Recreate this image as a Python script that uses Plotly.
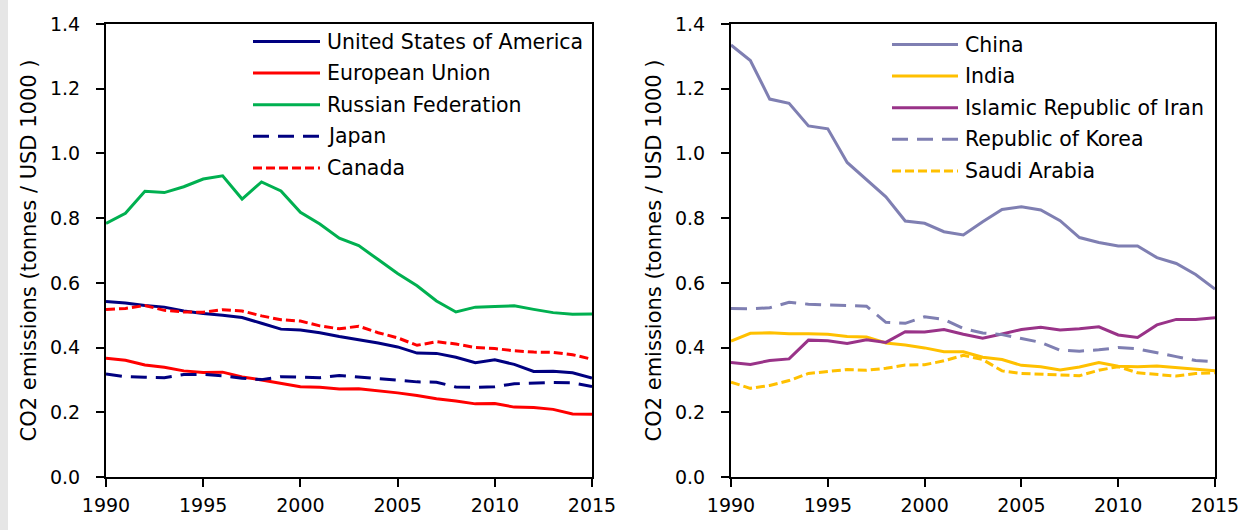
import plotly.graph_objects as go

W, H = 1241, 530

years = list(range(1990, 2016))

usa = [0.542, 0.538, 0.530, 0.525, 0.513, 0.505, 0.500, 0.493, 0.475, 0.457, 0.454, 0.446, 0.434,
       0.425, 0.414, 0.402, 0.383, 0.382, 0.370, 0.353, 0.362, 0.348, 0.326, 0.327, 0.322, 0.306]
eu = [0.367, 0.361, 0.346, 0.339, 0.328, 0.323, 0.324, 0.309, 0.300, 0.289, 0.279, 0.277, 0.272,
      0.273, 0.267, 0.260, 0.252, 0.242, 0.235, 0.226, 0.227, 0.216, 0.215, 0.209, 0.195, 0.194]
russia = [0.784, 0.815, 0.883, 0.879, 0.897, 0.921, 0.931, 0.859, 0.912, 0.884, 0.818, 0.782, 0.738,
          0.715, 0.672, 0.629, 0.591, 0.544, 0.510, 0.525, 0.527, 0.529, 0.518, 0.508, 0.503, 0.504]
japan = [0.318, 0.310, 0.308, 0.307, 0.317, 0.317, 0.313, 0.305, 0.301, 0.310, 0.309, 0.307, 0.314,
         0.309, 0.303, 0.300, 0.294, 0.293, 0.278, 0.277, 0.279, 0.288, 0.290, 0.292, 0.291, 0.280]
canada = [0.518, 0.521, 0.530, 0.515, 0.510, 0.509, 0.517, 0.513, 0.498, 0.486, 0.482, 0.467, 0.458,
          0.466, 0.446, 0.430, 0.407, 0.418, 0.411, 0.400, 0.397, 0.390, 0.386, 0.385, 0.378, 0.364]

china = [1.335, 1.287, 1.168, 1.155, 1.085, 1.076, 0.972, 0.918, 0.866, 0.791, 0.784, 0.758, 0.748,
         0.789, 0.827, 0.835, 0.825, 0.792, 0.740, 0.725, 0.714, 0.714, 0.678, 0.660, 0.626, 0.581]
india = [0.420, 0.444, 0.446, 0.443, 0.443, 0.441, 0.434, 0.433, 0.414, 0.408, 0.399, 0.387, 0.387,
         0.370, 0.363, 0.345, 0.341, 0.331, 0.340, 0.354, 0.342, 0.341, 0.343, 0.338, 0.335, 0.328]
iran = [0.354, 0.348, 0.360, 0.365, 0.423, 0.421, 0.413, 0.424, 0.416, 0.449, 0.448, 0.456, 0.441,
        0.429, 0.442, 0.456, 0.463, 0.454, 0.458, 0.464, 0.439, 0.431, 0.470, 0.487, 0.487, 0.492]
korea = [0.521, 0.520, 0.523, 0.540, 0.534, 0.533, 0.530, 0.528, 0.478, 0.475, 0.495, 0.487, 0.459,
         0.445, 0.440, 0.428, 0.416, 0.392, 0.389, 0.393, 0.400, 0.396, 0.385, 0.372, 0.360, 0.356]
saudi = [0.293, 0.274, 0.283, 0.298, 0.320, 0.326, 0.332, 0.330, 0.336, 0.346, 0.347, 0.359, 0.376,
         0.363, 0.328, 0.320, 0.318, 0.317, 0.313, 0.330, 0.341, 0.322, 0.317, 0.312, 0.320, 0.322]

x_ticks = [1990, 1995, 2000, 2005, 2010, 2015]
y_ticks = [0.0, 0.2, 0.4, 0.6, 0.8, 1.0, 1.2, 1.4]
y_tick_text = ["0.0", "0.2", "0.4", "0.6", "0.8", "1.0", "1.2", "1.4"]
y_title = "CO2 emissions (tonnes / USD 1000 )"

NAVY, RED, GREEN = "#000080", "#FF0000", "#00B050"
LAV, GOLD, PLUM = "#7F7FB2", "#FFC000", "#993388"
DASH_LONG = "16px,9px"
DASH_SHORT = "9px,4px"

left_series = [
    ("United States of America", usa, NAVY, "solid"),
    ("European Union", eu, RED, "solid"),
    ("Russian Federation", russia, GREEN, "solid"),
    ("Japan", japan, NAVY, DASH_LONG),
    ("Canada", canada, RED, DASH_SHORT),
]
right_series = [
    ("China", china, LAV, "solid"),
    ("India", india, GOLD, "solid"),
    ("Islamic Republic of Iran", iran, PLUM, "solid"),
    ("Republic of Korea", korea, LAV, DASH_LONG),
    ("Saudi Arabia", saudi, GOLD, DASH_SHORT),
]

FONT = "DejaVu Sans"

fig = go.Figure()

for name, vals, col, dash in left_series:
    fig.add_trace(go.Scatter(x=years, y=vals, mode="lines", name=name,
                             line=dict(color=col, width=3, dash=dash),
                             xaxis="x", yaxis="y", showlegend=False))
for name, vals, col, dash in right_series:
    fig.add_trace(go.Scatter(x=years, y=vals, mode="lines", name=name,
                             line=dict(color=col, width=3, dash=dash),
                             xaxis="x2", yaxis="y2", showlegend=False))

def px(x):
    return x / W

def py(y):
    return 1 - y / H

axis_common = dict(showgrid=False, zeroline=False, showline=True, linecolor="black", linewidth=2,
                   mirror=True, ticks="outside", ticklen=8, tickwidth=1.5, tickcolor="black",
                   automargin=False,
                   tickfont=dict(family=FONT, size=19, color="black"))

ydom = [py(477), py(24)]
title_font = dict(family=FONT, size=21, color="black")
fig.update_layout(
    template="none",
    width=W, height=H,
    margin=dict(l=0, r=0, t=0, b=0),
    paper_bgcolor="white", plot_bgcolor="white",
    font=dict(family=FONT, size=19, color="black"),
    xaxis=dict(domain=[px(106), px(592)], range=[1990, 2015], tickvals=x_ticks,
               ticklabelstandoff=2, anchor="y", **axis_common),
    yaxis=dict(domain=ydom, range=[0, 1.4], tickvals=y_ticks, ticktext=y_tick_text,
               ticklabelstandoff=12, anchor="x",
               title=dict(text=y_title, font=title_font, standoff=8),
               **axis_common),
    xaxis2=dict(domain=[px(731), px(1215)], range=[1990, 2015], tickvals=x_ticks,
                ticklabelstandoff=2, anchor="y2", **axis_common),
    yaxis2=dict(domain=ydom, range=[0, 1.4], tickvals=y_ticks, ticktext=y_tick_text,
                ticklabelstandoff=12, anchor="x2",
                title=dict(text=y_title, font=title_font, standoff=8),
                **axis_common),
)

shapes = [dict(type="rect", xref="paper", yref="paper", x0=0, x1=px(8), y0=0, y1=1,
               fillcolor="#E6E6E6", line=dict(width=0), layer="below")]
annotations = []

def add_legend(series, x_start, x_end, x_text, y_first, step):
    for i, (name, vals, col, dash) in enumerate(series):
        yy = y_first + i * step
        shapes.append(dict(type="line", xref="paper", yref="paper",
                           x0=px(x_start), x1=px(x_end), y0=py(yy), y1=py(yy),
                           line=dict(color=col, width=3, dash=dash)))
        annotations.append(dict(xref="paper", yref="paper", x=px(x_text), y=py(yy),
                                xanchor="left", yanchor="middle", showarrow=False,
                                text=name, font=dict(family=FONT, size=20.5, color="black")))

add_legend(left_series, 253, 320, 325, 41.5, 31.6)
add_legend(right_series, 892, 958, 963, 44.5, 31.6)

fig.update_layout(shapes=shapes, annotations=annotations)

fig.write_html("out.html", config={"displayModeBar": False},
               post_script="document.body.style.margin='0';document.body.style.overflow='hidden';")
